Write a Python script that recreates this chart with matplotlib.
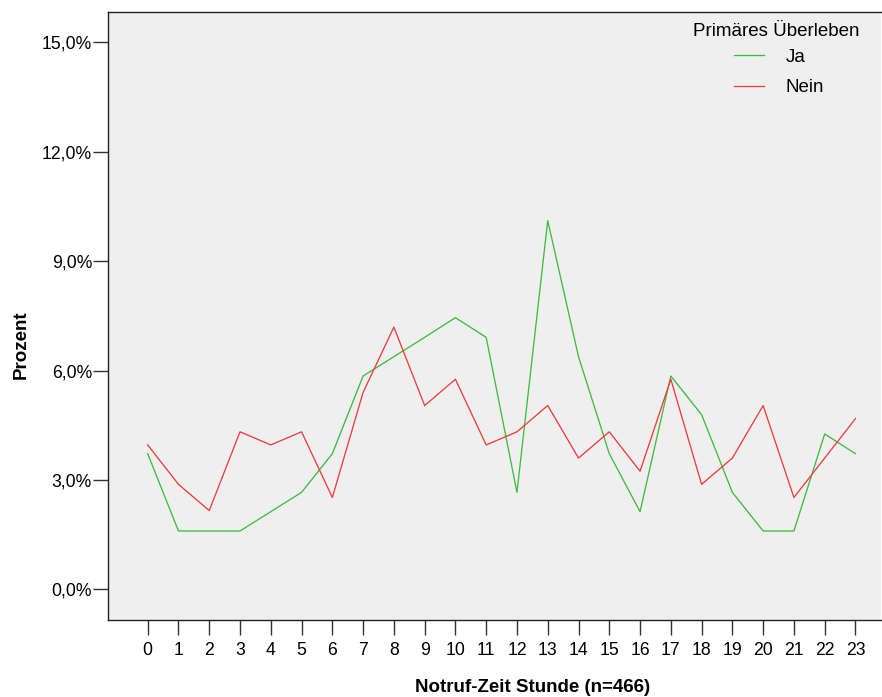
import matplotlib
matplotlib.use("Agg")
import matplotlib.pyplot as plt
from matplotlib.ticker import FuncFormatter

plt.rcParams['font.family'] = ['Liberation Sans', 'DejaVu Sans']

hours = list(range(24))
hour_labels = [str(h) for h in hours]
ja = [3.72, 1.60, 1.60, 1.60, 2.13, 2.66, 3.72, 5.85, 6.38, 6.91, 7.45, 6.91,
      2.66, 10.11, 6.38, 3.72, 2.13, 5.85, 4.79, 2.66, 1.60, 1.60, 4.26, 3.72]
nein = [3.96, 2.88, 2.16, 4.32, 3.96, 4.32, 2.52, 5.40, 7.19, 5.04, 5.76, 3.96,
        4.32, 5.04, 3.60, 4.32, 3.24, 5.76, 2.88, 3.60, 5.04, 2.52, 3.60, 4.68]
yticks = [0, 3, 6, 9, 12, 15]
series_names = ["Ja", "Nein"]
legend_title = "Primäres Überleben"

W, H = 882, 697
fig = plt.figure(figsize=(W / 100, H / 100), dpi=100)
ax = fig.add_axes([108 / W, 1 - 620 / H, (881 - 108) / W, (620 - 12) / H])
ax.set_facecolor('#efefef')

ax.plot(hours, ja, color='#3dbd3d', lw=0.95, label=series_names[0])
ax.plot(hours, nein, color='#f03c3c', lw=0.95, label=series_names[1])

ax.set_xlim(-1.29, 23.83)
ax.set_ylim(-0.84, 15.83)
ax.set_xticks(hours)
ax.set_xticklabels(hour_labels)
ax.set_yticks(yticks)
ax.yaxis.set_major_formatter(FuncFormatter(lambda v, p: f"{v:.1f}%".replace('.', ',')))

ax.spines['right'].set_visible(False)
for s in ['left', 'bottom', 'top']:
    ax.spines[s].set_color('#222222')
    ax.spines[s].set_linewidth(1.0)

ax.tick_params(axis='both', direction='out', length=10.5, width=1.0,
               color='#333333', labelsize=12.7, labelcolor='black')
ax.tick_params(axis='y', pad=1.0)
ax.tick_params(axis='x', pad=5.0)

fig.text(21 / W, 1 - 345 / H, "Prozent", fontsize=13.5, fontweight='bold',
         rotation=90, ha='center', va='center')
fig.text(533 / W, 1 - 687 / H, "Notruf-Zeit Stunde (n=466)", fontsize=13.5,
         fontweight='bold', ha='center', va='center')

fig.text(776 / W, 1 - 32 / H, legend_title, fontsize=13.5, ha='center', va='center')
leg = ax.legend(loc='upper left', bbox_to_anchor=(734 / W, 1 - 48.5 / H),
                bbox_transform=fig.transFigure, frameon=False, fontsize=13.5,
                handlelength=1.6, handletextpad=1.17, labelspacing=0.72,
                borderpad=0.0, borderaxespad=0.0)

fig.savefig("out.png", dpi=100)
